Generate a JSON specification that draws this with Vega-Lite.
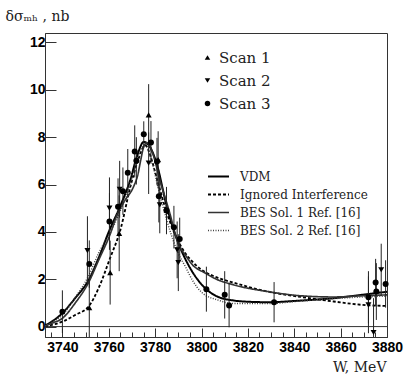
{
  "$schema": "https://vega.github.io/schema/vega-lite/v6.json",
  "width": 342,
  "height": 304,
  "autosize": "none",
  "padding": {"left": 45, "top": 33, "right": 18, "bottom": 38},
  "background": "white",
  "config": {
    "view": {"stroke": "#333", "strokeWidth": 1},
    "axis": {"domainColor": "#333", "tickColor": "#333", "labelColor": "black", "labelFont": "Liberation Sans", "labelFontWeight": "bold", "labelFontSize": 14, "grid": false, "labelOverlap": false}
  },
  "resolve": {"axis": {"x": "independent"}},
  "datasets": {
    "points": [
      {"scan": "Scan 1", "W": 3751.6, "val": 0.8, "err": 1.3},
      {"scan": "Scan 1", "W": 3760.6, "val": 2.28, "err": 1.35},
      {"scan": "Scan 1", "W": 3764.5, "val": 3.94, "err": 1.6},
      {"scan": "Scan 1", "W": 3777.2, "val": 8.94, "err": 1.3},
      {"scan": "Scan 1", "W": 3781.3, "val": 7.05, "err": 1.2},
      {"scan": "Scan 2", "W": 3750.8, "val": 3.21, "err": 1.45},
      {"scan": "Scan 2", "W": 3760.3, "val": 5.0, "err": 1.3},
      {"scan": "Scan 2", "W": 3764.7, "val": 5.8, "err": 1.2},
      {"scan": "Scan 2", "W": 3777.2, "val": 6.9, "err": 1.3},
      {"scan": "Scan 2", "W": 3782.0, "val": 5.14, "err": 1.2},
      {"scan": "Scan 2", "W": 3789.5, "val": 3.24, "err": 1.2},
      {"scan": "Scan 2", "W": 3790.0, "val": 2.7, "err": 1.2},
      {"scan": "Scan 2", "W": 3872.0, "val": 0.92, "err": 1.2},
      {"scan": "Scan 2", "W": 3874.2, "val": -0.25, "err": 1.45},
      {"scan": "Scan 2", "W": 3877.5, "val": 2.4, "err": 1.1},
      {"scan": "Scan 3", "W": 3740.0, "val": 0.63, "err": 0.9},
      {"scan": "Scan 3", "W": 3751.6, "val": 2.64, "err": 1.0},
      {"scan": "Scan 3", "W": 3760.3, "val": 4.44, "err": 1.2},
      {"scan": "Scan 3", "W": 3764.0, "val": 5.06, "err": 1.2},
      {"scan": "Scan 3", "W": 3766.1, "val": 5.72, "err": 1.0},
      {"scan": "Scan 3", "W": 3768.2, "val": 6.5, "err": 1.0},
      {"scan": "Scan 3", "W": 3771.2, "val": 7.4, "err": 1.1},
      {"scan": "Scan 3", "W": 3771.9, "val": 7.0, "err": 1.0},
      {"scan": "Scan 3", "W": 3775.1, "val": 8.12, "err": 0.55},
      {"scan": "Scan 3", "W": 3778.2, "val": 7.78, "err": 0.9},
      {"scan": "Scan 3", "W": 3780.8, "val": 6.97, "err": 1.0},
      {"scan": "Scan 3", "W": 3781.6, "val": 5.5, "err": 1.1},
      {"scan": "Scan 3", "W": 3784.9, "val": 4.9, "err": 1.0},
      {"scan": "Scan 3", "W": 3788.1, "val": 4.2, "err": 0.9},
      {"scan": "Scan 3", "W": 3790.6, "val": 3.7, "err": 0.9},
      {"scan": "Scan 3", "W": 3802.1, "val": 1.58, "err": 0.95},
      {"scan": "Scan 3", "W": 3810.0, "val": 1.34, "err": 1.0},
      {"scan": "Scan 3", "W": 3811.9, "val": 0.89, "err": 0.92},
      {"scan": "Scan 3", "W": 3831.3, "val": 1.03, "err": 0.85},
      {"scan": "Scan 3", "W": 3872.0, "val": 1.24, "err": 1.1},
      {"scan": "Scan 3", "W": 3875.1, "val": 1.86, "err": 1.0},
      {"scan": "Scan 3", "W": 3875.4, "val": 1.48, "err": 1.2},
      {"scan": "Scan 3", "W": 3879.4, "val": 1.8, "err": 1.0}
    ],
    "curves": [
      {"curve": "VDM", "W": 3732.5, "val": 0.05},
      {"curve": "VDM", "W": 3735.4, "val": 0.21},
      {"curve": "VDM", "W": 3740, "val": 0.57},
      {"curve": "VDM", "W": 3745.5, "val": 1.2},
      {"curve": "VDM", "W": 3751.5, "val": 2.0},
      {"curve": "VDM", "W": 3755.6, "val": 2.89},
      {"curve": "VDM", "W": 3760, "val": 4.0},
      {"curve": "VDM", "W": 3765, "val": 5.1},
      {"curve": "VDM", "W": 3769.3, "val": 6.2},
      {"curve": "VDM", "W": 3772.2, "val": 7.2},
      {"curve": "VDM", "W": 3775.1, "val": 7.8},
      {"curve": "VDM", "W": 3778, "val": 7.55},
      {"curve": "VDM", "W": 3780.6, "val": 6.9},
      {"curve": "VDM", "W": 3785.2, "val": 5.0},
      {"curve": "VDM", "W": 3789.5, "val": 3.66},
      {"curve": "VDM", "W": 3793.2, "val": 2.82},
      {"curve": "VDM", "W": 3796, "val": 2.32},
      {"curve": "VDM", "W": 3799.6, "val": 1.83},
      {"curve": "VDM", "W": 3801.8, "val": 1.6},
      {"curve": "VDM", "W": 3806.8, "val": 1.27},
      {"curve": "VDM", "W": 3814, "val": 1.1},
      {"curve": "VDM", "W": 3820, "val": 1.05},
      {"curve": "VDM", "W": 3828.5, "val": 1.03},
      {"curve": "VDM", "W": 3843, "val": 1.1},
      {"curve": "VDM", "W": 3857, "val": 1.2},
      {"curve": "VDM", "W": 3869, "val": 1.34},
      {"curve": "VDM", "W": 3880, "val": 1.47},
      {"curve": "Ignored Interference", "W": 3732.5, "val": 0.02},
      {"curve": "Ignored Interference", "W": 3735.4, "val": 0.07},
      {"curve": "Ignored Interference", "W": 3740, "val": 0.21},
      {"curve": "Ignored Interference", "W": 3745.5, "val": 0.49},
      {"curve": "Ignored Interference", "W": 3751.5, "val": 0.87},
      {"curve": "Ignored Interference", "W": 3755.6, "val": 1.62},
      {"curve": "Ignored Interference", "W": 3760.6, "val": 2.9},
      {"curve": "Ignored Interference", "W": 3765, "val": 4.08},
      {"curve": "Ignored Interference", "W": 3769.3, "val": 5.9},
      {"curve": "Ignored Interference", "W": 3772.2, "val": 6.9},
      {"curve": "Ignored Interference", "W": 3775.8, "val": 7.65},
      {"curve": "Ignored Interference", "W": 3778, "val": 7.2},
      {"curve": "Ignored Interference", "W": 3780.9, "val": 6.2},
      {"curve": "Ignored Interference", "W": 3785.2, "val": 4.75},
      {"curve": "Ignored Interference", "W": 3790, "val": 3.6},
      {"curve": "Ignored Interference", "W": 3793, "val": 3.1},
      {"curve": "Ignored Interference", "W": 3796, "val": 2.75},
      {"curve": "Ignored Interference", "W": 3800, "val": 2.4},
      {"curve": "Ignored Interference", "W": 3806, "val": 2.1},
      {"curve": "Ignored Interference", "W": 3814, "val": 1.85},
      {"curve": "Ignored Interference", "W": 3828.5, "val": 1.48},
      {"curve": "Ignored Interference", "W": 3843, "val": 1.25},
      {"curve": "Ignored Interference", "W": 3857, "val": 1.06},
      {"curve": "Ignored Interference", "W": 3869, "val": 0.92},
      {"curve": "Ignored Interference", "W": 3880, "val": 0.87},
      {"curve": "BES Sol. 1 Ref. [16]", "W": 3732.5, "val": 0.02},
      {"curve": "BES Sol. 1 Ref. [16]", "W": 3735.4, "val": 0.14},
      {"curve": "BES Sol. 1 Ref. [16]", "W": 3740, "val": 0.35},
      {"curve": "BES Sol. 1 Ref. [16]", "W": 3745.5, "val": 0.99},
      {"curve": "BES Sol. 1 Ref. [16]", "W": 3751.5, "val": 1.9},
      {"curve": "BES Sol. 1 Ref. [16]", "W": 3755.6, "val": 2.8},
      {"curve": "BES Sol. 1 Ref. [16]", "W": 3760.6, "val": 3.9},
      {"curve": "BES Sol. 1 Ref. [16]", "W": 3763.5, "val": 4.7},
      {"curve": "BES Sol. 1 Ref. [16]", "W": 3767.1, "val": 5.35},
      {"curve": "BES Sol. 1 Ref. [16]", "W": 3770.7, "val": 5.91},
      {"curve": "BES Sol. 1 Ref. [16]", "W": 3772.5, "val": 6.4},
      {"curve": "BES Sol. 1 Ref. [16]", "W": 3773.8, "val": 7.04},
      {"curve": "BES Sol. 1 Ref. [16]", "W": 3775.1, "val": 7.6},
      {"curve": "BES Sol. 1 Ref. [16]", "W": 3776.5, "val": 7.77},
      {"curve": "BES Sol. 1 Ref. [16]", "W": 3779, "val": 7.3},
      {"curve": "BES Sol. 1 Ref. [16]", "W": 3782, "val": 6.2},
      {"curve": "BES Sol. 1 Ref. [16]", "W": 3786, "val": 4.9},
      {"curve": "BES Sol. 1 Ref. [16]", "W": 3790, "val": 3.5},
      {"curve": "BES Sol. 1 Ref. [16]", "W": 3793.2, "val": 3.0},
      {"curve": "BES Sol. 1 Ref. [16]", "W": 3796, "val": 2.62},
      {"curve": "BES Sol. 1 Ref. [16]", "W": 3801.8, "val": 2.25},
      {"curve": "BES Sol. 1 Ref. [16]", "W": 3806, "val": 2.02},
      {"curve": "BES Sol. 1 Ref. [16]", "W": 3814, "val": 1.76},
      {"curve": "BES Sol. 1 Ref. [16]", "W": 3828.5, "val": 1.48},
      {"curve": "BES Sol. 1 Ref. [16]", "W": 3843, "val": 1.3},
      {"curve": "BES Sol. 1 Ref. [16]", "W": 3857, "val": 1.25},
      {"curve": "BES Sol. 1 Ref. [16]", "W": 3869, "val": 1.3},
      {"curve": "BES Sol. 1 Ref. [16]", "W": 3880, "val": 1.34},
      {"curve": "BES Sol. 2 Ref. [16]", "W": 3732.5, "val": 0.03},
      {"curve": "BES Sol. 2 Ref. [16]", "W": 3735.4, "val": 0.18},
      {"curve": "BES Sol. 2 Ref. [16]", "W": 3740, "val": 0.49},
      {"curve": "BES Sol. 2 Ref. [16]", "W": 3745.5, "val": 1.22},
      {"curve": "BES Sol. 2 Ref. [16]", "W": 3751.5, "val": 2.18},
      {"curve": "BES Sol. 2 Ref. [16]", "W": 3755.6, "val": 3.1},
      {"curve": "BES Sol. 2 Ref. [16]", "W": 3760.6, "val": 3.95},
      {"curve": "BES Sol. 2 Ref. [16]", "W": 3765, "val": 4.9},
      {"curve": "BES Sol. 2 Ref. [16]", "W": 3769, "val": 5.9},
      {"curve": "BES Sol. 2 Ref. [16]", "W": 3772, "val": 6.9},
      {"curve": "BES Sol. 2 Ref. [16]", "W": 3774.5, "val": 7.6},
      {"curve": "BES Sol. 2 Ref. [16]", "W": 3776, "val": 7.7},
      {"curve": "BES Sol. 2 Ref. [16]", "W": 3778, "val": 7.2},
      {"curve": "BES Sol. 2 Ref. [16]", "W": 3781, "val": 6.0},
      {"curve": "BES Sol. 2 Ref. [16]", "W": 3785, "val": 4.5},
      {"curve": "BES Sol. 2 Ref. [16]", "W": 3789.5, "val": 3.2},
      {"curve": "BES Sol. 2 Ref. [16]", "W": 3793.2, "val": 2.5},
      {"curve": "BES Sol. 2 Ref. [16]", "W": 3796, "val": 1.97},
      {"curve": "BES Sol. 2 Ref. [16]", "W": 3800, "val": 1.45},
      {"curve": "BES Sol. 2 Ref. [16]", "W": 3806.8, "val": 1.13},
      {"curve": "BES Sol. 2 Ref. [16]", "W": 3814, "val": 0.97},
      {"curve": "BES Sol. 2 Ref. [16]", "W": 3828.5, "val": 0.97},
      {"curve": "BES Sol. 2 Ref. [16]", "W": 3843, "val": 1.08},
      {"curve": "BES Sol. 2 Ref. [16]", "W": 3857, "val": 1.18},
      {"curve": "BES Sol. 2 Ref. [16]", "W": 3869, "val": 1.25},
      {"curve": "BES Sol. 2 Ref. [16]", "W": 3880, "val": 1.29}
    ]
  },
  "layer": [
    {
      "data": {"values": [{}]},
      "mark": {"type": "rule", "color": "#333", "strokeWidth": 1},
      "encoding": {"y": {"datum": 0, "type": "quantitative", "title": "δσₘₕ , nb"}}
    },
    {
      "data": {"name": "curves"},
      "mark": {"type": "line", "interpolate": "monotone", "clip": true},
      "encoding": {
        "x": {
          "field": "W", "type": "quantitative", "title": "W, MeV",
          "scale": {"domain": [3732.5, 3880], "nice": false, "zero": false},
          "axis": {
            "orient": "bottom",
            "values": [3740, 3760, 3780, 3800, 3820, 3840, 3860, 3880],
            "format": "d",
            "tickSize": -9,
            "labelPadding": 12,
            "labelFlush": false,
            "labelOverlap": false,
            "titleFont": "DejaVu Serif",
            "titleFontWeight": "normal",
            "titleFontSize": 14,
            "titleColor": "#222",
            "titleAlign": "right",
            "titleAnchor": "end",
            "titleX": 341,
            "titleY": 34,
            "titleBaseline": "alphabetic"
          }
        },
        "y": {
          "field": "val", "type": "quantitative", "title": "δσₘₕ , nb",
          "scale": {"domain": [-0.44, 12.4], "nice": false, "zero": false},
          "axis": {
            "values": [0,0.5,1,1.5,2,2.5,3,3.5,4,4.5,5,5.5,6,6.5,7,7.5,8,8.5,9,9.5,10,10.5,11,11.5,12],
            "labelExpr": "datum.value % 2 === 0 ? datum.label : ''",
            "tickSize": {"condition": {"test": "datum.value % 2 === 0", "value": -11}, "value": -5.5},
            "labelPadding": 11,
            "labelFlush": false,
            "labelOverlap": false,
            "titleFont": "DejaVu Serif",
            "titleFontWeight": "normal",
            "titleFontSize": 14,
            "titleColor": "#222",
            "titleAngle": 0,
            "titleAlign": "left",
            "titleBaseline": "alphabetic",
            "titleX": -40,
            "titleY": -13
          }
        },
        "color": {
          "field": "curve", "type": "nominal",
          "scale": {"domain": ["VDM", "Ignored Interference", "BES Sol. 1 Ref. [16]", "BES Sol. 2 Ref. [16]"], "range": ["#000000", "#000000", "#333333", "#444444"]},
          "legend": {"orient": "none", "legendX": 162, "legendY": 132, "title": null, "symbolType": "stroke", "symbolSize": 441, "rowPadding": 0, "labelFont": "DejaVu Serif", "labelFontSize": 12, "labelColor": "#222", "labelOffset": 10, "padding": 0}
        },
        "strokeDash": {
          "field": "curve", "type": "nominal",
          "scale": {"domain": ["VDM", "Ignored Interference", "BES Sol. 1 Ref. [16]", "BES Sol. 2 Ref. [16]"], "range": [[1, 0], [3, 2], [1, 0], [1, 1.5]]},
          "legend": {"orient": "none", "legendX": 162, "legendY": 132, "title": null, "symbolType": "stroke", "symbolSize": 441, "rowPadding": 0, "labelFont": "DejaVu Serif", "labelFontSize": 12, "labelColor": "#222", "labelOffset": 10, "padding": 0}
        },
        "strokeWidth": {
          "field": "curve", "type": "nominal",
          "scale": {"domain": ["VDM", "Ignored Interference", "BES Sol. 1 Ref. [16]", "BES Sol. 2 Ref. [16]"], "range": [2, 1.5, 1, 1]},
          "legend": {"orient": "none", "legendX": 162, "legendY": 132, "title": null, "symbolType": "stroke", "symbolSize": 441, "rowPadding": 0, "labelFont": "DejaVu Serif", "labelFontSize": 12, "labelColor": "#222", "labelOffset": 10, "padding": 0}
        }
      }
    },
    {
      "data": {"name": "points"},
      "mark": {"type": "errorbar", "color": "#222", "thickness": 1, "clip": true},
      "encoding": {
        "x": {
          "field": "W", "type": "quantitative", "title": null,
          "axis": {
            "orient": "bottom",
            "values": [3735,3745,3750,3755,3765,3770,3775,3785,3790,3795,3805,3810,3815,3825,3830,3835,3845,3850,3855,3865,3870,3875],
            "labels": false,
            "domain": false,
            "tickSize": -5,
            "title": null
          }
        },
        "y": {"field": "val", "type": "quantitative", "title": "δσₘₕ , nb"},
        "yError": {"field": "err"}
      }
    },
    {
      "data": {"name": "points"},
      "mark": {"type": "point", "filled": true, "color": "black", "opacity": 1, "size": 36},
      "encoding": {
        "x": {"field": "W", "type": "quantitative", "axis": null},
        "y": {"field": "val", "type": "quantitative", "title": "δσₘₕ , nb"},
        "shape": {
          "field": "scan", "type": "nominal",
          "scale": {"domain": ["Scan 1", "Scan 2", "Scan 3"], "range": ["triangle-up", "triangle-down", "circle"]},
          "legend": {"orient": "none", "legendX": 155, "legendY": 17, "title": null, "symbolSize": 30, "symbolFillColor": "black", "symbolStrokeColor": "black", "rowPadding": 7, "labelFont": "DejaVu Serif", "labelFontSize": 15, "labelColor": "#222", "labelOffset": 4, "padding": 0}
        }
      }
    }
  ]
}
